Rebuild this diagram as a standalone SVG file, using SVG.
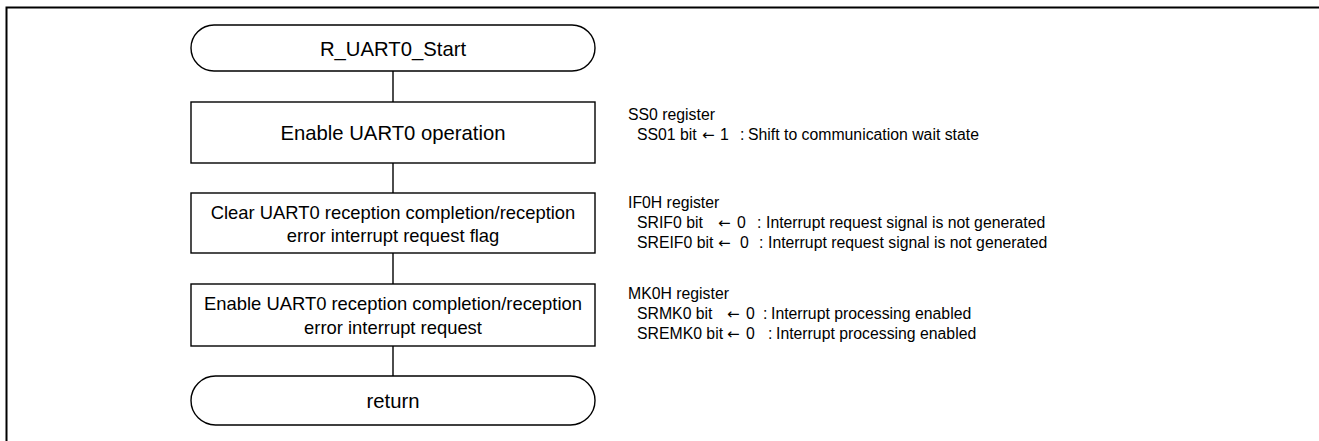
<svg xmlns="http://www.w3.org/2000/svg" width="1319" height="441" viewBox="0 0 1319 441">
<style>
.shape{fill:#fff;stroke:#000;stroke-width:1.4}
.conn{stroke:#000;stroke-width:1.4;fill:none}
.t{font-family:"Liberation Sans",Arial,sans-serif;fill:#000;text-anchor:middle}
.big{font-size:20.3px}
.mid{font-size:18.4px}
.note{font-family:"Liberation Sans",Arial,sans-serif;font-size:15.8px;fill:#000}
.arr{font-family:"DejaVu Sans",sans-serif;font-size:15px}
</style>
<rect width="1319" height="441" fill="#fff"/>
<path d="M6.5,441 V7.5 H1319" fill="none" stroke="#000" stroke-width="2"/>
<g id="connectors">
<line class="conn" x1="393" y1="71" x2="393" y2="102"/>
<line class="conn" x1="393" y1="163" x2="393" y2="193"/>
<line class="conn" x1="393" y1="253" x2="393" y2="284"/>
<line class="conn" x1="393" y1="346" x2="393" y2="376"/>
</g>
<g id="start">
<rect class="shape" x="191" y="25" width="404" height="46" rx="23"/>
<text class="t big" x="393" y="55.5">R_UART0_Start</text>
</g>
<g id="enable-op">
<rect class="shape" x="191" y="102" width="404" height="61"/>
<text class="t big" x="393" y="140">Enable UART0 operation</text>
</g>
<g id="clear-flag">
<rect class="shape" x="191" y="193" width="404" height="60"/>
<text class="t mid" x="393" y="218.5">Clear UART0 reception completion/reception</text>
<text class="t mid" x="393" y="242">error interrupt request flag</text>
</g>
<g id="enable-int">
<rect class="shape" x="191" y="284" width="404" height="62"/>
<text class="t mid" x="393" y="310">Enable UART0 reception completion/reception</text>
<text class="t mid" x="393" y="333.5">error interrupt request</text>
</g>
<g id="return">
<rect class="shape" x="191" y="376" width="404" height="49" rx="24.5"/>
<text class="t big" x="393" y="407.5">return</text>
</g>
<g id="note-ss0">
<text class="note" x="628" y="120">SS0 register</text>
<text class="note" y="140"><tspan x="637">SS01 bit</tspan><tspan class="arr" x="702">←</tspan><tspan x="720">1</tspan><tspan x="740">:</tspan><tspan x="748">Shift to communication wait state</tspan></text>
</g>
<g id="note-if0h">
<text class="note" x="628" y="208">IF0H register</text>
<text class="note" y="228"><tspan x="637">SRIF0 bit</tspan><tspan class="arr" x="718">←</tspan><tspan x="737">0</tspan><tspan x="757">:</tspan><tspan x="766">Interrupt request signal is not generated</tspan></text>
<text class="note" y="248"><tspan x="637">SREIF0 bit</tspan><tspan class="arr" x="718">←</tspan><tspan x="740">0</tspan><tspan x="759">:</tspan><tspan x="768">Interrupt request signal is not generated</tspan></text>
</g>
<g id="note-mk0h">
<text class="note" x="628" y="299">MK0H register</text>
<text class="note" y="319"><tspan x="637">SRMK0 bit</tspan><tspan class="arr" x="727">←</tspan><tspan x="746">0</tspan><tspan x="763">:</tspan><tspan x="771">Interrupt processing enabled</tspan></text>
<text class="note" y="339"><tspan x="637">SREMK0 bit</tspan><tspan class="arr" x="727">←</tspan><tspan x="746">0</tspan><tspan x="768">:</tspan><tspan x="776">Interrupt processing enabled</tspan></text>
</g>
</svg>
